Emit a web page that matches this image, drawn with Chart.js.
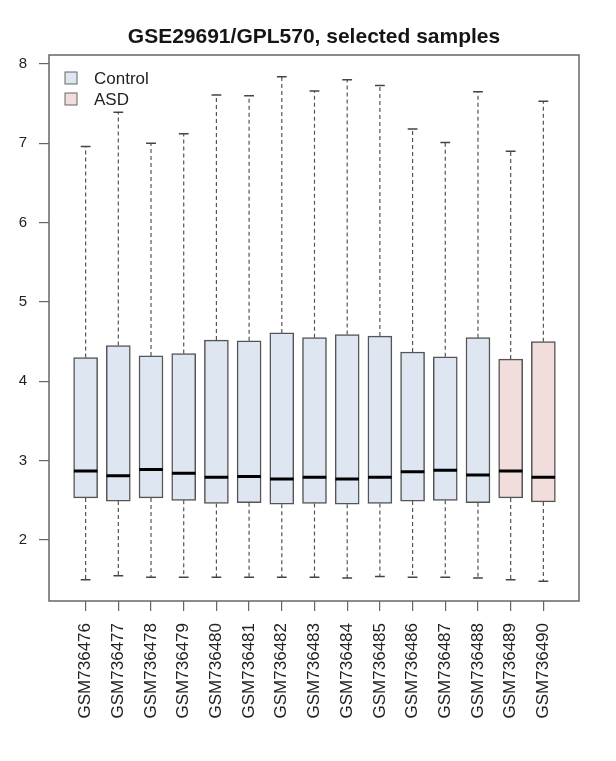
<!DOCTYPE html>
<html>
<head>
    <title>GSE29691/GPL570, selected samples</title>
    <style>
        body {
            margin: 0;
            background-color: white;
        }
    </style>
    <script src="https://cdn.jsdelivr.net/npm/chart.js"></script>
</head>
<body>
    <canvas id="boxChart" width="616" height="761"></canvas>

    <script>
        // 샘플 이름과 그룹
        const samples = ['GSM736476', 'GSM736477', 'GSM736478', 'GSM736479', 'GSM736480',
            'GSM736481', 'GSM736482', 'GSM736483', 'GSM736484', 'GSM736485',
            'GSM736486', 'GSM736487', 'GSM736488', 'GSM736489', 'GSM736490'];
        const groups = ['Control', 'Control', 'Control', 'Control', 'Control',
            'Control', 'Control', 'Control', 'Control', 'Control',
            'Control', 'Control', 'Control', 'ASD', 'ASD'];

        // 박스플롯 값
        const upper = [6.96, 7.39, 7.00, 7.12, 7.61, 7.60, 7.84, 7.66, 7.80, 7.73, 7.18, 7.01, 7.65, 6.90, 7.53];
        const q3 = [4.30, 4.45, 4.32, 4.35, 4.52, 4.51, 4.61, 4.55, 4.59, 4.57, 4.37, 4.31, 4.55, 4.28, 4.50];
        const median = [2.87, 2.81, 2.89, 2.84, 2.79, 2.80, 2.77, 2.79, 2.77, 2.79, 2.86, 2.88, 2.82, 2.87, 2.79];
        const q1 = [2.53, 2.49, 2.53, 2.50, 2.46, 2.47, 2.45, 2.46, 2.45, 2.46, 2.49, 2.50, 2.47, 2.53, 2.48];
        const lower = [1.50, 1.55, 1.53, 1.53, 1.53, 1.53, 1.53, 1.53, 1.52, 1.54, 1.53, 1.53, 1.52, 1.50, 1.48];

        const yTicks = [2, 3, 4, 5, 6, 7, 8];
        const legendLabels = ['Control', 'ASD'];
        const groupColors = { Control: '#dde6f1', ASD: '#f2dddd' };
        const titleText = 'GSE29691/GPL570, selected samples';

        const FONT = '"Liberation Sans", Arial, sans-serif';
        const pos = samples.map((s, i) => i + 1);

        // 수염, 끝선, 중앙값 선은 null 로 끊어서 한 데이터셋에 담는다
        const whiskers = [];
        const caps = [];
        const medians = [];
        pos.forEach((x, i) => {
            whiskers.push({ x: x, y: q3[i] }, { x: x, y: upper[i] }, { x: x, y: null });
            whiskers.push({ x: x, y: q1[i] }, { x: x, y: lower[i] }, { x: x, y: null });
            caps.push({ x: x - 0.15, y: upper[i] }, { x: x + 0.15, y: upper[i] }, { x: x, y: null });
            caps.push({ x: x - 0.15, y: lower[i] }, { x: x + 0.15, y: lower[i] }, { x: x, y: null });
            medians.push({ x: x - 0.36, y: median[i] }, { x: x + 0.36, y: median[i] }, { x: x, y: null });
        });

        const extras = {
            id: 'extras',
            afterDraw(chart) {
                const ctx = chart.ctx;
                const a = chart.chartArea;
                ctx.save();
                // 테두리
                ctx.strokeStyle = '#666';
                ctx.lineWidth = 1.5;
                ctx.strokeRect(a.left, a.top, a.right - a.left, a.bottom - a.top);
                // 제목
                ctx.fillStyle = '#151515';
                ctx.font = 'bold 21px ' + FONT;
                ctx.textAlign = 'center';
                ctx.textBaseline = 'alphabetic';
                ctx.fillText(titleText, (a.left + a.right) / 2, 43);
                // 범례
                ctx.font = '17px ' + FONT;
                ctx.textAlign = 'left';
                ctx.textBaseline = 'middle';
                legendLabels.forEach((name, k) => {
                    const cy = a.top + 23 + k * 21;
                    ctx.fillStyle = groupColors[name];
                    ctx.fillRect(a.left + 16, cy - 6, 12, 12);
                    ctx.strokeStyle = '#666';
                    ctx.lineWidth = 1;
                    ctx.strokeRect(a.left + 16, cy - 6, 12, 12);
                    ctx.fillStyle = '#222';
                    ctx.fillText(name, a.left + 45, cy + 1);
                });
                ctx.restore();
            }
        };

        const chart = new Chart(document.getElementById('boxChart'), {
            type: 'bar',
            data: {
                datasets: [{
                    data: pos.map((x, i) => ({ x: x, y: [q1[i], q3[i]] })),
                    backgroundColor: groups.map(g => groupColors[g]),
                    borderColor: '#555',
                    borderWidth: 1.5,
                    borderSkipped: false,
                    barThickness: 24,
                    order: 3
                }, {
                    type: 'line',
                    data: whiskers,
                    borderColor: '#555',
                    borderWidth: 1.2,
                    borderDash: [4, 3],
                    pointRadius: 0,
                    order: 2
                }, {
                    type: 'line',
                    data: caps,
                    borderColor: '#444',
                    borderWidth: 1.5,
                    pointRadius: 0,
                    order: 1
                }, {
                    type: 'line',
                    data: medians,
                    borderColor: '#000',
                    borderWidth: 3,
                    pointRadius: 0,
                    order: 0
                }]
            },
            options: {
                responsive: false,
                animation: false,
                layout: {
                    padding: { top: 55, right: 37, left: 0, bottom: 0 }
                },
                plugins: {
                    legend: { display: false },
                    tooltip: { enabled: false },
                    title: { display: false }
                },
                scales: {
                    x: {
                        type: 'linear',
                        offset: false,
                        min: -0.12,
                        max: 16.09,
                        afterBuildTicks: s => { s.ticks = pos.map(v => ({ value: v })); },
                        afterFit: s => { s.height = 160; },
                        grid: {
                            offset: false,
                            drawOnChartArea: false,
                            tickLength: 10,
                            tickColor: '#666',
                            lineWidth: 1.2
                        },
                        border: { display: false },
                        ticks: {
                            autoSkip: false,
                            maxRotation: 90,
                            minRotation: 90,
                            padding: 12,
                            color: '#222',
                            font: { family: FONT, size: 17 },
                            callback: v => samples[v - 1]
                        }
                    },
                    y: {
                        type: 'linear',
                        min: 1.231,
                        max: 8.113,
                        afterBuildTicks: s => { s.ticks = yTicks.map(v => ({ value: v })); },
                        afterFit: s => { s.width = 49; },
                        grid: {
                            drawOnChartArea: false,
                            tickLength: 10,
                            tickColor: '#666',
                            lineWidth: 1.2
                        },
                        border: { display: false },
                        ticks: {
                            padding: 12,
                            color: '#222',
                            font: { family: FONT, size: 15 }
                        }
                    }
                }
            },
            plugins: [extras]
        });
    </script>
</body>
</html>
